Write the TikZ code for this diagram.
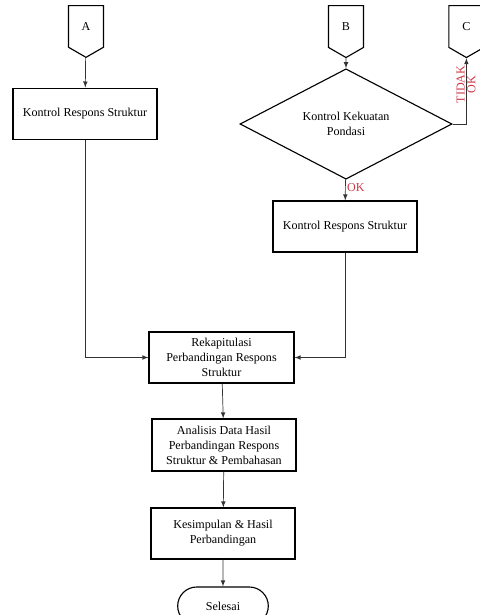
\documentclass[tikz,border=0pt]{standalone}
\usepackage{fontspec}
\setmainfont{Liberation Serif}
\usetikzlibrary{shapes.geometric,shapes.symbols,shapes.misc}
\definecolor{labelred}{RGB}{205,55,70}
\tikzset{
  >=latex,
  every node/.style={font=\fontsize{8.6}{10.6}\selectfont},
  prosesbox/.style={draw, line width=0.8pt, align=center, minimum width=3.6cm, minimum height=1.275cm},
  offpage/.style={draw, line width=0.8pt, signal, signal to=south, signal from=nowhere, signal pointer angle=120, minimum width=0.875cm, minimum height=1.125cm, inner sep=1pt},
  keputusan/.style={draw, line width=0.8pt, diamond, align=center, minimum width=5.3cm, minimum height=1.925cm, inner sep=0pt},
  terminal/.style={draw, line width=0.8pt, rounded rectangle, minimum width=2.5cm, minimum height=0.95cm},
  garis/.style={line width=0.5pt, draw=black!80},
  ketlabel/.style={text=labelred, inner sep=1pt}
}
\begin{document}
\begin{tikzpicture}
\useasboundingbox (0,0) rectangle (12,-15.375);
% penghubung
\node[offpage, anchor=north] (offA) at (2.15,-0.125) {A};
\node[offpage, anchor=north] (offB) at (8.65,-0.125) {B};
\node[offpage, anchor=north] (offC) at (11.66,-0.125) {C};
% proses
\node[prosesbox] (krsA) at (2.125,-2.84) {Kontrol Respons Struktur};
\node[keputusan] (pondasi) at (8.65,-3.1) {Kontrol Kekuatan\\Pondasi};
\node[prosesbox] (krsB) at (8.625,-5.6625) {Kontrol Respons Struktur};
\node[prosesbox, minimum width=3.625cm] (rekap) at (5.5375,-8.9375) {Rekapitulasi\\Perbandingan Respons\\Struktur};
\node[prosesbox, minimum height=1.3cm] (analisis) at (5.6,-11.125) {Analisis Data Hasil\\Perbandingan Respons\\Struktur \& Pembahasan};
\node[prosesbox] (kesimpulan) at (5.575,-13.3375) {Kesimpulan \& Hasil\\Perbandingan};
\node[terminal] (selesai) at (5.575,-15.15) {Selesai};
% alur
\draw[garis, ->] (offA) -- (krsA);
\draw[garis, ->] (offB) -- (pondasi);
\draw[garis, ->] (pondasi) -- node[ketlabel, pos=0.4, anchor=west] {OK} (krsB);
\draw[garis, ->] (pondasi.east) -| node[ketlabel, pos=0.8, anchor=south, rotate=90] {TIDAK}
  node[ketlabel, pos=0.8, anchor=north, rotate=90, inner sep=0.5pt] {OK} (offC.south);
\draw[garis, ->] (krsA) |- (rekap);
\draw[garis, ->] (krsB) |- (rekap);
\draw[garis, ->] (rekap) -- (analisis);
\draw[garis, ->] (analisis) -- (kesimpulan);
\draw[garis, ->] (kesimpulan) -- (selesai);
\end{tikzpicture}
\end{document}
